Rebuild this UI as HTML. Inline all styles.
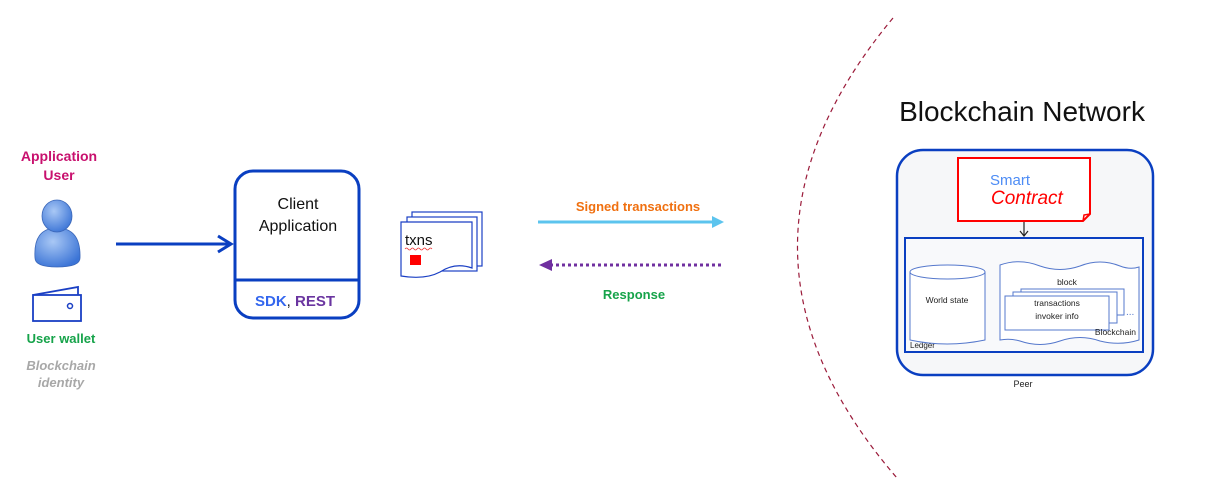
<!DOCTYPE html>
<html><head><meta charset="utf-8"><style>
html,body{margin:0;padding:0;background:#fff;}
svg text{font-family:"Liberation Sans",Arial,sans-serif;}
</style></head><body>
<svg width="1207" height="498" viewBox="0 0 1207 498" xmlns="http://www.w3.org/2000/svg">
<defs>
<radialGradient id="ug" cx="0.4" cy="0.35" r="0.7"><stop offset="0" stop-color="#a9c8f5"/><stop offset="1" stop-color="#3b74d6"/></radialGradient>
</defs>
<path d="M893,18 Q700,250 897,478" fill="none" stroke="#9b1b3a" stroke-width="1.2" stroke-dasharray="5,4"/>

<text x="59" y="161" text-anchor="middle" font-size="14" font-weight="bold" fill="#c8106e">Application</text>
<text x="59" y="180" text-anchor="middle" font-size="14" font-weight="bold" fill="#c8106e">User</text>
<path d="M35,258 Q33,228 57,228 Q81,228 80,258 Q80,267 57,267 Q35,267 35,258Z" fill="url(#ug)" stroke="#3a66b8" stroke-width="0.8"/>
<ellipse cx="57" cy="216" rx="15" ry="16" fill="url(#ug)" stroke="#3a66b8" stroke-width="0.8"/>
<path d="M33,295 L78,287 L78,295" fill="none" stroke="#1a3fc4" stroke-width="1.8"/>
<rect x="33" y="295" width="48" height="26" fill="#fff" stroke="#1a3fc4" stroke-width="1.8"/>
<circle cx="70" cy="306" r="2.5" fill="none" stroke="#1a3fc4" stroke-width="1.5"/>
<text x="61" y="343" text-anchor="middle" font-size="13" font-weight="bold" fill="#16a34a">User wallet</text>
<text x="61" y="370" text-anchor="middle" font-size="13" font-weight="bold" font-style="italic" fill="#a8a8a8">Blockchain</text>
<text x="61" y="387" text-anchor="middle" font-size="13" font-weight="bold" font-style="italic" fill="#a8a8a8">identity</text>

<line x1="116" y1="244" x2="230" y2="244" stroke="#0a3fc1" stroke-width="3"/>
<path d="M218,236 L231,244 L218,252" fill="none" stroke="#0a3fc1" stroke-width="3"/>

<rect x="235" y="171" width="124" height="147" rx="18" fill="#fff" stroke="#0a3fc1" stroke-width="3"/>
<line x1="235" y1="280" x2="359" y2="280" stroke="#0a3fc1" stroke-width="3"/>
<text x="298" y="209" text-anchor="middle" font-size="16" fill="#111">Client</text>
<text x="298" y="231" text-anchor="middle" font-size="16" fill="#111">Application</text>
<text x="255" y="306" font-size="15" font-weight="bold" fill="#3366ee">SDK<tspan fill="#222" font-weight="normal">, </tspan><tspan fill="#6a35a0">REST</tspan></text>

<rect x="412" y="212" width="70" height="54" fill="#fff" stroke="#1a3fc4" stroke-width="1.2"/>
<rect x="407" y="217" width="70" height="54" fill="#fff" stroke="#1a3fc4" stroke-width="1.2"/>
<path d="M401,222 L472,222 L472,268 Q455,262 440,272 Q425,280 401,276 Z" fill="#fff" stroke="#1a3fc4" stroke-width="1.2"/>
<text x="405" y="245" font-size="15" fill="#111">txns</text>
<path d="M405,249 q1.5,-2 3,0 t3,0 t3,0 t3,0 t3,0 t3,0 t3,0 t3,0 t3,0" fill="none" stroke="#e33" stroke-width="0.8"/>
<rect x="410" y="255" width="11" height="10" fill="#ff0000"/>

<text x="638" y="211" text-anchor="middle" font-size="13" font-weight="bold" fill="#f07010">Signed transactions</text>
<line x1="538" y1="222" x2="715" y2="222" stroke="#5cc4ee" stroke-width="3"/>
<path d="M712,216 L724,222 L712,228Z" fill="#5cc4ee"/>
<line x1="550" y1="265" x2="724" y2="265" stroke="#7030a0" stroke-width="3" stroke-dasharray="3,3"/>
<path d="M552,259 L539,265 L552,271Z" fill="#7030a0"/>
<text x="634" y="299" text-anchor="middle" font-size="13" font-weight="bold" fill="#16a34a">Response</text>

<text x="1022" y="121" text-anchor="middle" font-size="28" fill="#111">Blockchain Network</text>
<rect x="897" y="150" width="256" height="225" rx="26" fill="#f6f7f9" stroke="#0a3fc1" stroke-width="2.5"/>
<path d="M958,158 L1090,158 L1090,214 L1083,221 L958,221Z" fill="#fff" stroke="#ff0000" stroke-width="2"/>
<path d="M1083,221 L1084,215 L1090,214" fill="none" stroke="#ff0000" stroke-width="1.5"/>
<text x="990" y="185" font-size="15" fill="#4d8cf5">Smart</text>
<text x="991" y="204" font-size="19" font-style="italic" fill="#ff0000">Contract</text>
<line x1="1024" y1="222" x2="1024" y2="235" stroke="#222" stroke-width="1.2"/>
<path d="M1020,231 L1024,236 L1028,231" fill="none" stroke="#222" stroke-width="1.2"/>
<rect x="905" y="238" width="238" height="114" fill="#f8f9fb" stroke="#0a3fc1" stroke-width="2"/>
<text x="910" y="348" font-size="8" fill="#222">Ledger</text>
<path d="M910,272 L910,340 Q947,348 985,340 L985,272" fill="#fff" stroke="#5578cc" stroke-width="1"/>
<ellipse cx="947.5" cy="272" rx="37.5" ry="7" fill="#fff" stroke="#5578cc" stroke-width="1"/>
<text x="947" y="303" text-anchor="middle" font-size="8.5" fill="#222">World state</text>
<path d="M1000,265 Q1020,258 1040,266 Q1060,273 1080,266 Q1100,258 1120,266 Q1130,270 1139,267 L1139,340 Q1120,346 1100,341 Q1080,334 1060,341 Q1040,348 1020,341 Q1010,338 1000,340 Z" fill="#fff" stroke="#5578cc" stroke-width="1"/>
<text x="1067" y="285" text-anchor="middle" font-size="8.5" fill="#222">block</text>
<rect x="1021" y="289" width="103" height="26" fill="#fff" stroke="#5578cc" stroke-width="1"/>
<rect x="1013" y="292" width="104" height="31" fill="#fff" stroke="#5578cc" stroke-width="1"/>
<rect x="1005" y="296" width="104" height="34" fill="#fff" stroke="#5578cc" stroke-width="1"/>
<text x="1057" y="306" text-anchor="middle" font-size="8.5" fill="#222">transactions</text>
<text x="1057" y="319" text-anchor="middle" font-size="8.5" fill="#222">invoker info</text>
<text x="1126" y="315" font-size="10" fill="#5578cc">...</text>
<text x="1136" y="335" text-anchor="end" font-size="8.5" fill="#222">Blockchain</text>
<text x="1023" y="387" text-anchor="middle" font-size="9" fill="#222">Peer</text>
</svg>
</body></html>
